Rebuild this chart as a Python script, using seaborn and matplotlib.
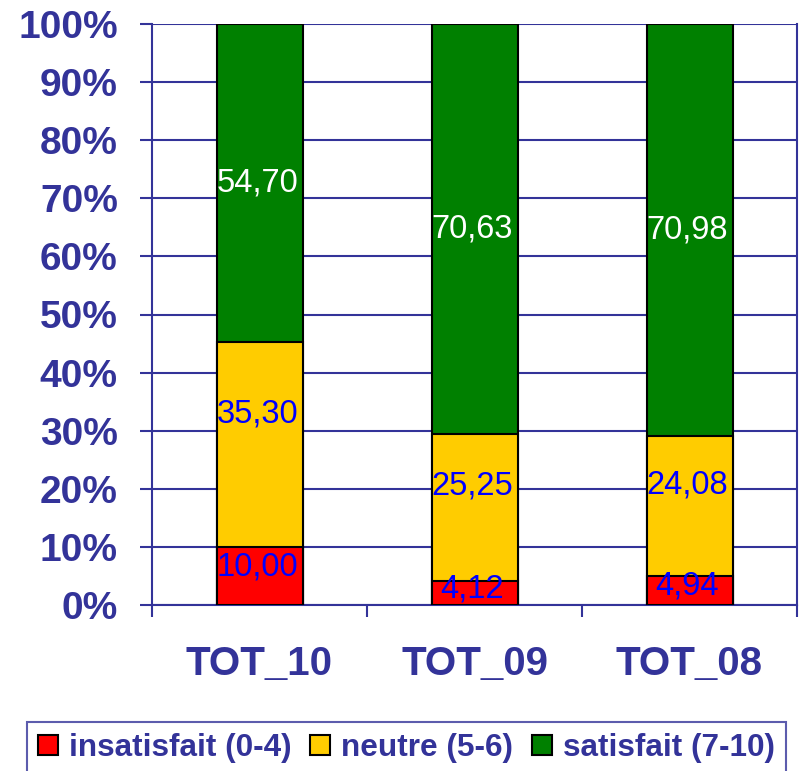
import pandas as pd
import numpy as np
import matplotlib.pyplot as plt
import seaborn as sns
from matplotlib.patches import Patch

# données (en %)
categories = ['TOT_10', 'TOT_09', 'TOT_08']
insatisfait = [10.00, 4.12, 4.94]
neutre = [35.30, 25.25, 24.08]
satisfait = [54.70, 70.63, 70.98]
series = ['insatisfait (0-4)', 'neutre (5-6)', 'satisfait (7-10)']
yticks = [0, 10, 20, 30, 40, 50, 60, 70, 80, 90, 100]

navy = '#333399'
couleurs = ['#FF0000', '#FFCC00', '#008000']
couleurs_txt = ['#0000FF', '#0000FF', 'white']

sns.set_style('white')
plt.rcParams['font.family'] = ['Liberation Sans', 'DejaVu Sans']

df = pd.DataFrame({'cat': categories, 'ins': insatisfait, 'neu': neutre, 'sat': satisfait})
df['c1'] = df['ins']
df['c2'] = df['ins'] + df['neu']
df['c3'] = df['c2'] + df['sat']

fig = plt.figure(figsize=(8.02, 7.71), dpi=100)
ax = fig.add_axes([152 / 802, 1 - 605 / 771, 645 / 802, 581 / 771])

# barres empilées : on superpose les cumuls
for col, c in zip(['c3', 'c2', 'c1'], couleurs[::-1]):
    sns.barplot(data=df, x='cat', y=col, color=c, width=0.4, ax=ax,
                edgecolor='black', linewidth=1.5, saturation=1, zorder=3)

# étiquettes
bas = [np.zeros(3), df['c1'].values, df['c2'].values]
vals = [insatisfait, neutre, satisfait]
fracs = [0.65, 0.65, 0.5]
for k in range(3):
    for i in range(3):
        y = bas[k][i] + vals[k][i] * fracs[k]
        ax.text(i - 0.01, y, f'{vals[k][i]:.2f}'.replace('.', ','), ha='center', va='center',
                color=couleurs_txt[k], fontsize=23.5, zorder=5)

ax.set_ylim(0, 100)
ax.set_xlim(-0.5, 2.5)
ax.set_yticks(yticks)
ax.set_yticklabels([f'{t}%' for t in yticks], fontsize=28, fontweight='bold', color=navy)
ax.set_xticks([-0.5, 0.5, 1.5, 2.5], minor=False)
ax.set_xticklabels([])
ax.set_xticks([0, 1, 2], minor=True)
ax.set_xticklabels(categories, minor=True, fontsize=29, fontweight='bold', color=navy)
ax.tick_params(axis='x', which='major', bottom=True, direction='out', length=12 * 0.72,
               width=1.5, color=navy)
ax.tick_params(axis='x', which='minor', bottom=True, length=0, pad=29)
ax.tick_params(axis='y', left=True, direction='out', length=12 * 0.72, width=1.5,
               color=navy, pad=16)
ax.set_xlabel('')
ax.set_ylabel('')
ax.grid(axis='y', color=navy, linewidth=1.5, zorder=0)
ax.set_axisbelow(True)
for s in ['left', 'right', 'bottom']:
    ax.spines[s].set_color(navy)
    ax.spines[s].set_linewidth(1.5)
ax.spines['top'].set_visible(False)

handles = [Patch(facecolor=c, edgecolor='black', linewidth=1.5) for c in couleurs]
leg = fig.legend(handles, series, loc='upper left', bbox_to_anchor=(27 / 802, 1 - 722 / 771),
                 ncol=3, frameon=True, fancybox=False, borderaxespad=0,
                 prop={'size': 22.7, 'weight': 'bold'}, handlelength=0.63, handleheight=0.63,
                 handletextpad=0.35, columnspacing=0.6, borderpad=0.35)
leg.get_frame().set_edgecolor(navy)
leg.get_frame().set_linewidth(1.5)
for t in leg.get_texts():
    t.set_color(navy)

plt.savefig('out.png', dpi=100)
